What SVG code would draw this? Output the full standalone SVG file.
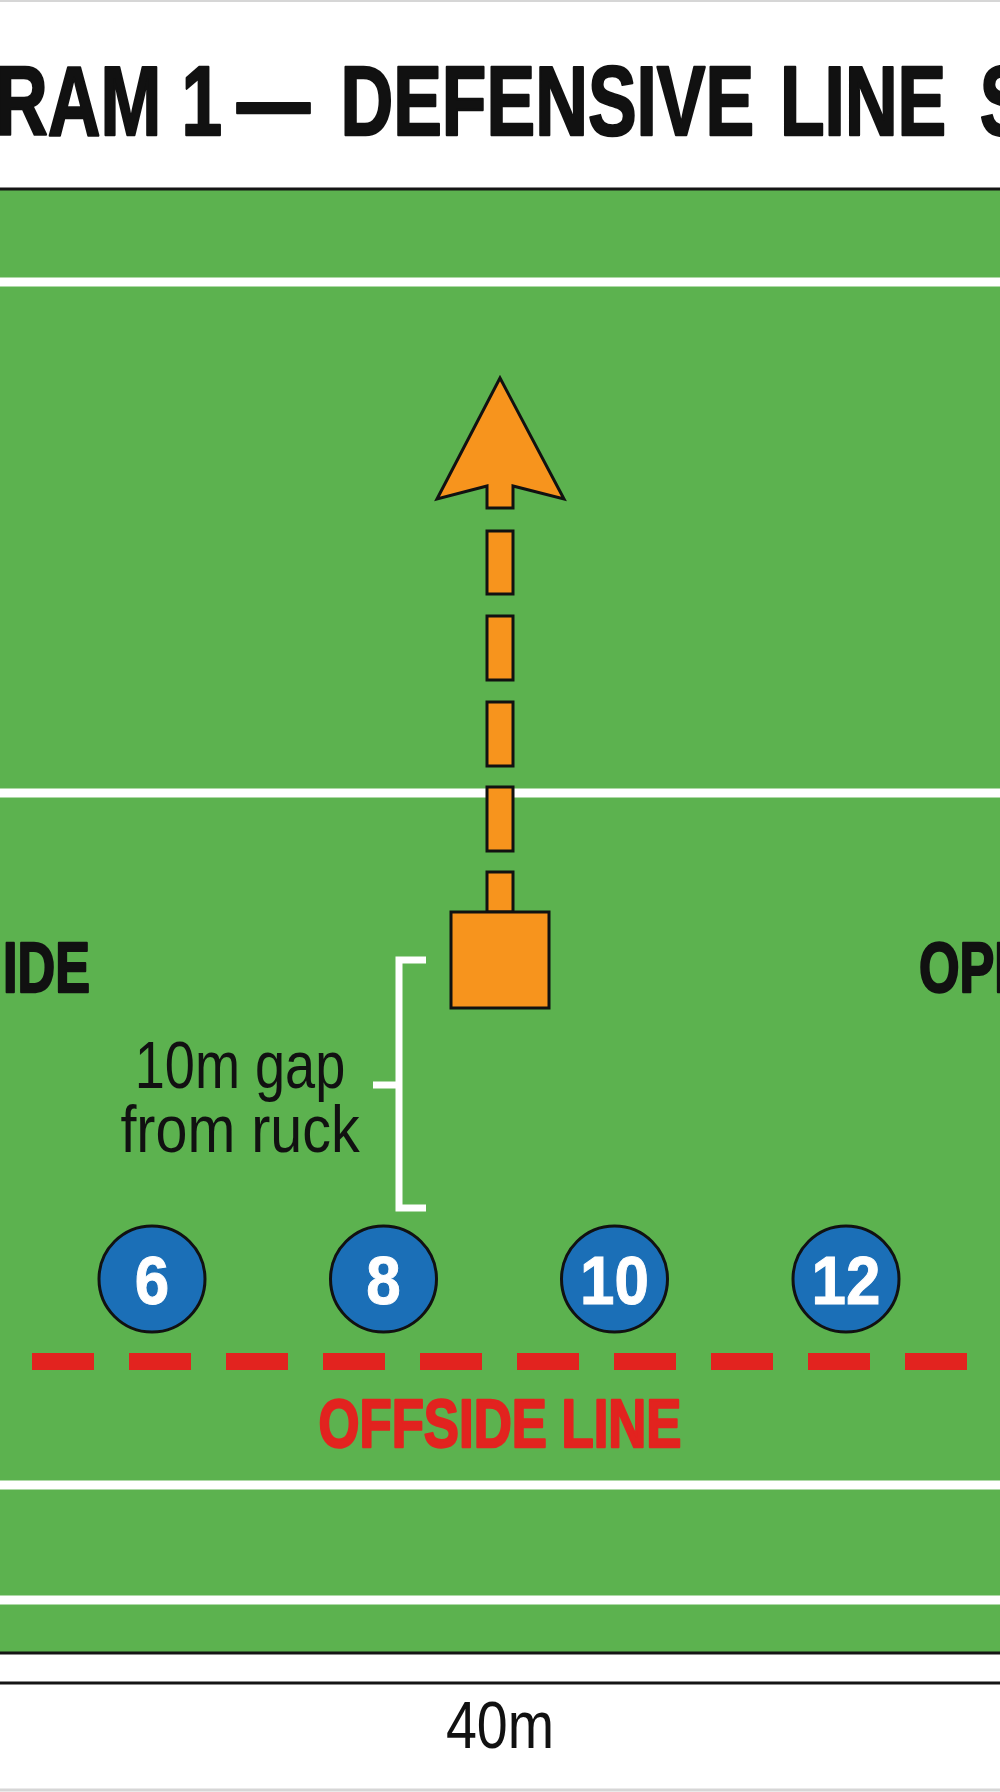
<svg xmlns="http://www.w3.org/2000/svg" width="1000" height="1792" viewBox="0 0 1000 1792">
  <style>
    .boldc { font-family: "Liberation Sans", Arial, sans-serif; font-weight: bold; stroke-width: 2.4; stroke-linejoin: round; }
    .reg { font-family: "Liberation Sans", Arial, sans-serif; font-weight: normal; fill: #111; }
    .white-line { stroke: #ffffff; stroke-width: 9; }
    .edge { stroke: #151515; stroke-width: 3; }
    .orange { fill: #f7941d; stroke: #111; stroke-width: 3; stroke-linejoin: miter; }
    .player { fill: #1b6fb7; stroke: #111; stroke-width: 3; }
    .pnum { font-family: "Liberation Sans", Arial, sans-serif; font-weight: bold; font-size: 68px; fill: #ffffff; stroke: #ffffff; stroke-width: 1; text-anchor: middle; }
    .offside { fill: #e2231f; }
    .bracket { fill: none; stroke: #ffffff; stroke-width: 7; }
  </style>

  <rect x="0" y="0" width="1000" height="1792" fill="#ffffff"/>
  <line x1="0" y1="1" x2="1000" y2="1" stroke="#d6d6d6" stroke-width="2"/>
  <line x1="0" y1="1790" x2="1000" y2="1790" stroke="#d6d6d6" stroke-width="3"/>

  <g id="title">
    <text class="boldc" font-size="98" fill="#111" stroke="#111" transform="translate(0,135) scale(0.745,1)"><tspan x="-6.7" y="0">RAM 1 </tspan><tspan x="318" y="0">— </tspan><tspan x="457" y="0">DEFENSIVE </tspan><tspan x="1047" y="0">LINE </tspan><tspan x="1315" y="0">S</tspan></text>
  </g>

  <g id="field">
    <rect x="0" y="189" width="1000" height="1464" fill="#5cb24f"/>
    <line class="edge" x1="0" y1="189" x2="1000" y2="189"/>
    <line class="edge" x1="0" y1="1653" x2="1000" y2="1653"/>
    <line class="white-line" x1="0" y1="282" x2="1000" y2="282"/>
    <line class="white-line" x1="0" y1="793" x2="1000" y2="793"/>
    <line class="white-line" x1="0" y1="1485" x2="1000" y2="1485"/>
    <line class="white-line" x1="0" y1="1600" x2="1000" y2="1600"/>
  </g>

  <g id="side-left">
    <text class="boldc" font-size="70" fill="#111" stroke="#111" text-anchor="end" transform="translate(90,992) scale(0.745,1)">IDE</text>
  </g>
  <g id="side-right">
    <text class="boldc" font-size="70" fill="#111" stroke="#111" transform="translate(919,992) scale(0.745,1)">OPEN</text>
  </g>

  <g id="connectors">
    <rect class="orange" x="487" y="531" width="26" height="63"/>
    <rect class="orange" x="487" y="616" width="26" height="64"/>
    <rect class="orange" x="487" y="702" width="26" height="64"/>
    <rect class="orange" x="487" y="787" width="26" height="64"/>
    <rect class="orange" x="487" y="872" width="26" height="40"/>
    <polygon class="orange" points="500,378 564,499 513,486 513,508 487,508 487,486 437,499"/>
  </g>

  <g id="ruck">
    <rect class="orange" x="451" y="912" width="98" height="96"/>
  </g>

  <g id="gap-annotation">
    <path class="bracket" d="M426,960 H399 V1208 H426 M399,1085 H373"/>
    <text class="reg" font-size="66" text-anchor="middle" transform="translate(240,1088) scale(0.82,1)">10m gap</text>
    <text class="reg" font-size="66" text-anchor="middle" transform="translate(240,1152) scale(0.87,1)">from ruck</text>
  </g>

  <g id="player-6">
    <circle class="player" cx="152" cy="1279" r="53"/>
    <text class="pnum" transform="translate(152,1304) scale(0.91,1)">6</text>
  </g>
  <g id="player-8">
    <circle class="player" cx="383.5" cy="1279" r="53"/>
    <text class="pnum" transform="translate(383.5,1304) scale(0.91,1)">8</text>
  </g>
  <g id="player-10">
    <circle class="player" cx="614.5" cy="1279" r="53"/>
    <text class="pnum" transform="translate(614.5,1304) scale(0.91,1)">10</text>
  </g>
  <g id="player-12">
    <circle class="player" cx="846" cy="1279" r="53"/>
    <text class="pnum" transform="translate(846,1304) scale(0.91,1)">12</text>
  </g>

  <g id="offside-line">
    <rect class="offside" x="32" y="1353" width="62" height="17"/>
    <rect class="offside" x="129" y="1353" width="62" height="17"/>
    <rect class="offside" x="226" y="1353" width="62" height="17"/>
    <rect class="offside" x="323" y="1353" width="62" height="17"/>
    <rect class="offside" x="420" y="1353" width="62" height="17"/>
    <rect class="offside" x="517" y="1353" width="62" height="17"/>
    <rect class="offside" x="614" y="1353" width="62" height="17"/>
    <rect class="offside" x="711" y="1353" width="62" height="17"/>
    <rect class="offside" x="808" y="1353" width="62" height="17"/>
    <rect class="offside" x="905" y="1353" width="62" height="17"/>
    <text class="boldc" font-size="68" fill="#e2231f" stroke="#e2231f" text-anchor="middle" transform="translate(500,1447) scale(0.775,1)">OFFSIDE LINE</text>
  </g>

  <g id="width-measure">
    <line class="edge" x1="0" y1="1683" x2="1000" y2="1683"/>
    <text class="reg" font-size="67" text-anchor="middle" transform="translate(500,1748) scale(0.83,1)">40m</text>
  </g>
</svg>
